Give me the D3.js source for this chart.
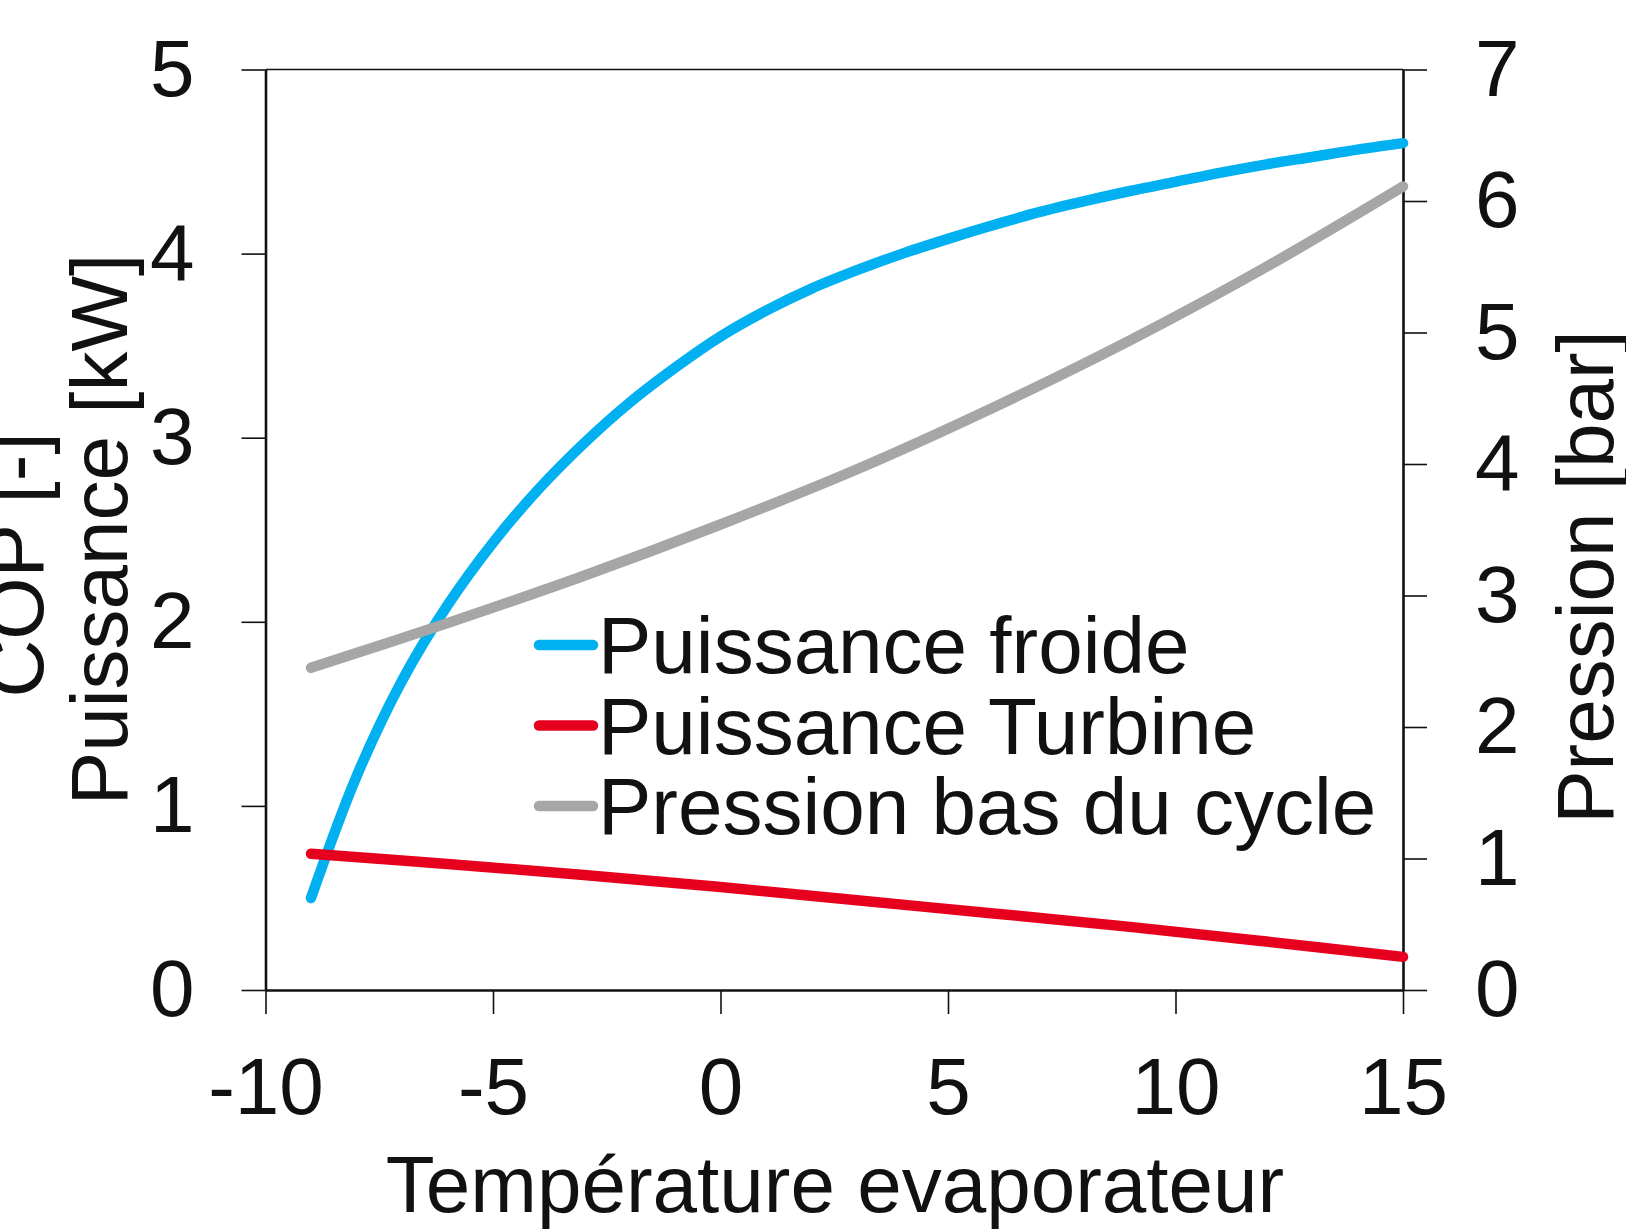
<!DOCTYPE html>
<html>
<head>
<meta charset="utf-8">
<script src="https://cdn.jsdelivr.net/npm/d3@7"></script>
<style>
  body { margin: 0; background: #fff; }
  text { font-family: "Liberation Sans", Arial, sans-serif; fill: #111; }
</style>
</head>
<body>
<svg id="chart"></svg>
<script>
// temperatures (x) and values
var tempsFroide = [-9, -8, -7, -6, -5, -4, -3, -2, -1, 0, 1, 2, 3, 4, 5, 6, 7, 8, 9, 10, 11, 12, 13, 14, 15];
var puissanceFroide = [0.50, 1.16, 1.68, 2.09, 2.43, 2.72, 2.97, 3.19, 3.38, 3.55, 3.69, 3.81, 3.91, 4.00, 4.08, 4.155, 4.225, 4.285, 4.34, 4.39, 4.44, 4.485, 4.525, 4.565, 4.60];

var tempsTurbine = [-9, -6, -3, 0, 3, 6, 9, 12, 15];
var puissanceTurbine = [0.74, 0.685, 0.625, 0.56, 0.487, 0.416, 0.343, 0.263, 0.18];

var tempsPression = [-9, -6, -3, 0, 3, 6, 9, 12, 15];
var pressionBas = [2.45, 2.79, 3.15, 3.54, 3.96, 4.43, 4.94, 5.50, 6.11];

var xTicks = [-10, -5, 0, 5, 10, 15];
var yLeftTicks = [0, 1, 2, 3, 4, 5];
var yRightTicks = [0, 1, 2, 3, 4, 5, 6, 7];

var legendNames = ["Puissance froide", "Puissance Turbine", "Pression bas du cycle"];

(function () {
  // set the dimensions of the graph
  var width = 1626,
    height = 1230,
    plotLeft = 265.5,
    plotRight = 1403,
    plotTop = 69.5,
    plotBottom = 990,
    fontSize = 80;

  var svg = d3.select("#chart").attr("width", width).attr("height", height);

  var x = d3.scaleLinear().domain([-10, 15]).range([plotLeft, plotRight]);
  var yLeft = d3.scaleLinear().domain([0, 5]).range([plotBottom, plotTop]);
  var yRight = d3.scaleLinear().domain([0, 7]).range([plotBottom, plotTop]);

  // plain hyphen for negative numbers, like the original
  var fmt = function (d) {
    return String(d);
  };

  function styleAxis(g) {
    g.selectAll(".domain").attr("stroke", "#111").attr("stroke-width", 2.6);
    g.selectAll(".tick line").attr("stroke", "#111").attr("stroke-width", 1.6);
    g.selectAll(".tick text")
      .attr("fill", "#111")
      .style("font-size", fontSize + "px")
      .style("font-family", '"Liberation Sans", Arial, sans-serif');
  }

  svg
    .append("g")
    .attr("transform", "translate(0," + plotBottom + ")")
    .call(d3.axisBottom(x).tickValues(xTicks).tickFormat(fmt).tickSize(24).tickSizeOuter(0).tickPadding(43))
    .call(styleAxis);

  svg
    .append("g")
    .attr("transform", "translate(" + plotLeft + ",0)")
    .call(d3.axisLeft(yLeft).tickValues(yLeftTicks).tickFormat(fmt).tickSize(24).tickSizeOuter(0).tickPadding(47))
    .call(styleAxis);

  svg
    .append("g")
    .attr("transform", "translate(" + plotRight + ",0)")
    .call(d3.axisRight(yRight).tickValues(yRightTicks).tickFormat(fmt).tickSize(24).tickSizeOuter(0).tickPadding(48))
    .call(styleAxis);

  // top border
  svg
    .append("line")
    .attr("x1", plotLeft)
    .attr("x2", plotRight)
    .attr("y1", plotTop)
    .attr("y2", plotTop)
    .attr("stroke", "#111")
    .attr("stroke-width", 1.6);

  var colors = ["#00B0F0", "#E6001E", "#A6A6A6"];

  function drawLine(xs, ys, yScale, color) {
    var pts = xs.map(function (d, i) {
      return [d, ys[i]];
    });
    svg
      .append("path")
      .datum(pts)
      .attr("fill", "none")
      .attr("stroke", color)
      .attr("stroke-width", 10.5)
      .attr("stroke-linecap", "round")
      .attr("stroke-linejoin", "round")
      .attr(
        "d",
        d3
          .line()
          .curve(d3.curveCatmullRom.alpha(0.5))
          .x(function (d) {
            return x(d[0]);
          })
          .y(function (d) {
            return yScale(d[1]);
          })
      );
  }

  drawLine(tempsFroide, puissanceFroide, yLeft, colors[0]);
  drawLine(tempsTurbine, puissanceTurbine, yLeft, colors[1]);
  drawLine(tempsPression, pressionBas, yRight, colors[2]);

  // legend
  var legend = svg
    .selectAll(".legend")
    .data(legendNames)
    .enter()
    .append("g")
    .attr("transform", function (d, i) {
      return "translate(539," + (645 + i * 80.5) + ")";
    });

  legend
    .append("line")
    .attr("x1", 0)
    .attr("x2", 54)
    .attr("stroke", function (d, i) {
      return colors[i];
    })
    .attr("stroke-width", 10.5)
    .attr("stroke-linecap", "round");

  legend
    .append("text")
    .attr("x", 59)
    .attr("y", 28)
    .style("font-size", fontSize + "px")
    .text(function (d) {
      return d;
    });

  // axis titles
  svg
    .append("text")
    .attr("x", 835)
    .attr("y", 1212)
    .attr("text-anchor", "middle")
    .style("font-size", fontSize + "px")
    .text("Température evaporateur");

  svg
    .append("text")
    .attr("transform", "translate(127,529.5) rotate(-90)")
    .attr("text-anchor", "middle")
    .style("font-size", fontSize + "px")
    .text("Puissance [kW]");

  svg
    .append("text")
    .attr("transform", "translate(42.7,565) rotate(-90)")
    .attr("text-anchor", "middle")
    .style("font-size", fontSize + "px")
    .text("COP [-]");

  svg
    .append("text")
    .attr("transform", "translate(1613,577) rotate(-90)")
    .attr("text-anchor", "middle")
    .style("font-size", fontSize + "px")
    .text("Pression [bar]");
})();
</script>
</body>
</html>
